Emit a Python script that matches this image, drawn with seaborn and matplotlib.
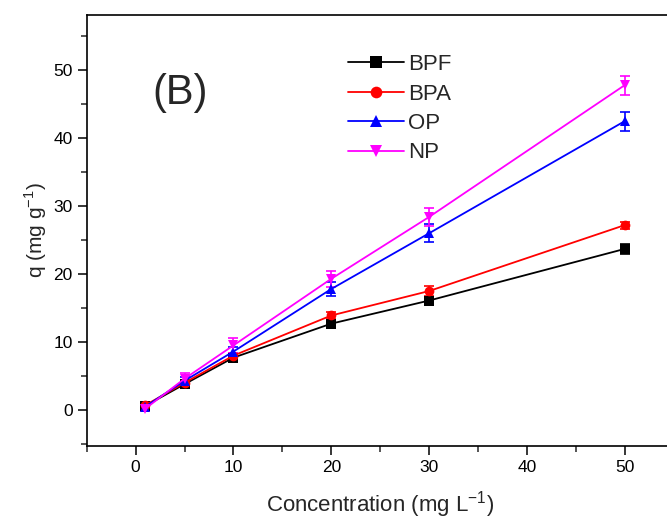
import matplotlib
matplotlib.use("Agg")
import matplotlib.pyplot as plt
import seaborn as sns
import pandas as pd

# data
conc = [1, 5, 10, 20, 30, 50]
q_bpf = [0.6, 3.8, 7.7, 12.7, 16.1, 23.7]
q_bpa = [0.7, 4.0, 8.0, 13.9, 17.5, 27.2]
q_op = [0.5, 4.3, 8.6, 17.8, 26.0, 42.5]
q_np = [0.2, 4.6, 9.5, 19.3, 28.4, 47.8]
err_bpf = [0.3, 0.3, 0.4, 0.4, 0.5, 0.7]
err_bpa = [0.3, 0.4, 0.4, 0.5, 0.7, 0.5]
err_op = [0.3, 0.6, 0.7, 1.0, 1.3, 1.4]
err_np = [0.3, 0.8, 1.1, 1.2, 1.3, 1.4]

names = ["BPF", "BPA", "OP", "NP"]
colors = {"BPF": "black", "BPA": "red", "OP": "blue", "NP": "magenta"}
markers = {"BPF": "s", "BPA": "o", "OP": "^", "NP": "v"}

values = {"BPF": q_bpf, "BPA": q_bpa, "OP": q_op, "NP": q_np}
errors = {"BPF": err_bpf, "BPA": err_bpa, "OP": err_op, "NP": err_np}

rows = []
for n in names:
    for c, v in zip(conc, values[n]):
        rows.append({"conc": c, "q": v, "sample": n})
df = pd.DataFrame(rows)

sns.set_style("ticks")
plt.rcParams["font.family"] = ["Liberation Sans", "DejaVu Sans"]

fig = plt.figure(figsize=(6.67, 5.21), dpi=100)
ax = fig.add_axes([0.130, 0.144, 0.880, 0.827])

for n in names:
    ax.errorbar(conc, values[n], yerr=errors[n], fmt="none", ecolor=colors[n],
                elinewidth=1.2, capsize=3.5, capthick=1.2, zorder=2)

sns.lineplot(data=df, x="conc", y="q", hue="sample", style="sample",
             palette=colors, markers=markers, dashes=False, hue_order=names,
             style_order=names, markersize=7, markeredgewidth=0,
             linewidth=1.3, ax=ax, zorder=3)

ax.set_xlim(-5, 55)
ax.set_ylim(-5.3, 58.1)
ax.set_xticks([0, 10, 20, 30, 40, 50])
ax.set_xticks([-5, 5, 15, 25, 35, 45, 55], minor=True)
ax.set_yticks([0, 10, 20, 30, 40, 50])
ax.set_yticks([-5, 5, 15, 25, 35, 45, 55], minor=True)
ax.tick_params(which="major", direction="out", length=6.5, width=1.1,
               labelsize=12.5, colors="black")
ax.tick_params(which="minor", direction="out", length=4.2, width=1.1)
for s in ax.spines.values():
    s.set_linewidth(1.2)
    s.set_color("black")

ax.set_xlabel("Concentration (mg L$^{\\mathregular{-1}}$)", fontsize=16, labelpad=10)
ax.set_ylabel("q (mg g$^{\\mathregular{-1}}$)", fontsize=15, labelpad=3)

ax.text(0.112, 0.82, "(B)", transform=ax.transAxes, fontsize=30,
        va="center", ha="left")

leg = ax.legend(loc="upper left", bbox_to_anchor=(0.43, 0.93), frameon=False,
                fontsize=16, handlelength=2.5, handletextpad=0.2,
                labelspacing=0.38, borderaxespad=0, markerscale=1.2)

fig.savefig("out.png", dpi=100)
